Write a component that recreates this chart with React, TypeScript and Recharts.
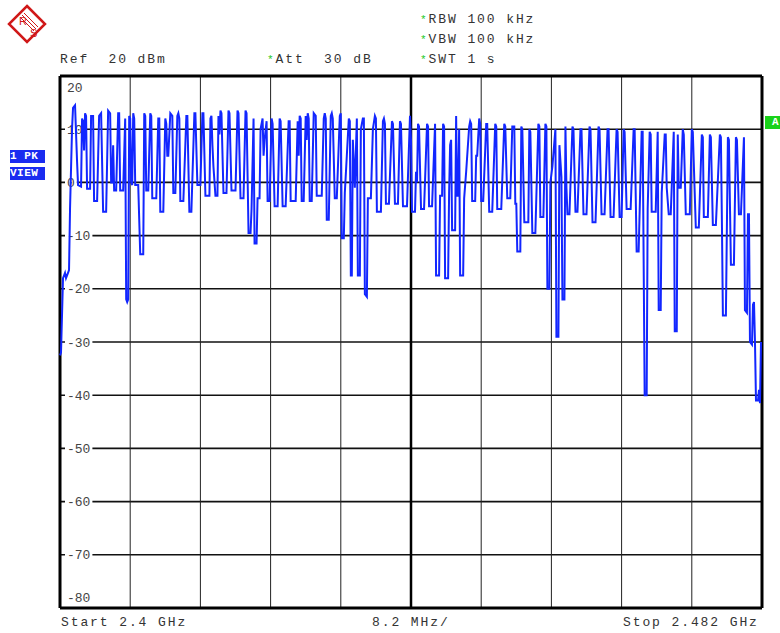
import { Line, LineChart, ReferenceLine, XAxis, YAxis } from 'recharts'

// sweep bins across the span (2.4 GHz .. 2.482 GHz)
const traceBins = [
  0, 1, 3, 5, 6, 8, 9, 10, 12, 13, 15, 17, 18, 21, 22, 23, 24, 25, 26, 27, 30, 31, 33, 34, 37, 39, 41, 43, 46, 48,
  50, 51, 52, 53, 54, 56, 58, 59, 60, 63, 65, 66, 67, 68, 69, 70, 71, 72, 73, 74, 75, 78, 80, 83, 84, 85, 86, 88, 90, 91,
  92, 96, 98, 99, 100, 103, 105, 106, 107, 108, 110, 112, 113, 115, 117, 118, 119, 120, 123, 126, 127, 129, 131, 134, 135, 137, 140, 142, 143, 145,
  149, 150, 151, 152, 153, 155, 157, 158, 159, 160, 161, 163, 166, 168, 169, 171, 175, 177, 178, 180, 183, 185, 186, 188, 190, 191, 193, 194, 196, 197,
  199, 200, 202, 203, 204, 206, 207, 209, 211, 212, 214, 217, 219, 220, 222, 225, 228, 229, 230, 235, 237, 238, 239, 240, 241, 243, 245, 246, 247, 248,
  249, 251, 253, 255, 256, 261, 263, 264, 265, 266, 268, 270, 271, 272, 274, 276, 279, 280, 281, 283, 284, 286, 288, 289, 290, 291, 292, 294, 296, 297,
  299, 300, 302, 303, 304, 306, 307, 310, 312, 314, 315, 316, 320, 322, 323, 324, 325, 328, 331, 332, 334, 337, 339, 340, 342, 346, 349, 350, 351, 354,
  355, 356, 357, 358, 360, 363, 366, 367, 368, 371, 374, 375, 378, 379, 381, 382, 383, 384, 387, 388, 389, 390, 391, 394, 395, 396, 397, 398, 399, 402,
  403, 405, 408, 409, 410, 411, 414, 415, 416, 418, 419, 420, 422, 425, 426, 428, 431, 434, 435, 436, 440, 443, 444, 446, 449, 451, 453, 454, 455, 456,
  459, 460, 461, 463, 467, 468, 469, 471, 474, 477, 478, 479, 482, 484, 485, 486, 488, 489, 491, 494, 495, 497, 498, 500, 501, 503, 504, 505, 506, 508,
  511, 512, 514, 516, 519, 520, 522, 525, 528, 529, 531, 534, 537, 538, 540, 543, 546, 547, 549, 552, 555, 556, 558, 560, 562, 563, 565, 569, 572, 573,
  575, 577, 580, 581, 583, 585, 586, 588, 589, 590, 594, 596, 597, 599, 600, 603, 604, 605, 607, 609, 612, 613, 615, 616, 617, 619, 621, 622, 624, 628,
  630, 631, 634, 637, 640, 641, 642, 646, 648, 649, 651, 654, 658, 659, 660, 661, 664, 666, 667, 669, 672, 674, 675, 677, 679, 682, 683, 685, 686, 687,
  688, 690, 691, 692, 693, 694, 696, 697, 698, 699,
]

const traceDbm = [
  -32.5, -32, -18, -17, -18, -17, -16.5, -5, 10, 14, 14.5, 4, -0.5, -0.8, 12, 11.5, 6, 13, 12.5, -1.2, -1.2, 12.5, 12.5, -3.5, -3.5, 12.5, 13, -5.5, -5.5, 13.5,
  13, 0, 0, 7, -1.5, -1.5, 13, 13, -1.5, -1.5, 12, -22, -22.5, -22, 12.5, 12, 0, -0.5, 13, 12, -0.5, -0.5, -13.5, -13.5, 13, 12.5, -1.5, -1.5, 13, 12.5,
  -3, -3, 12, 12, -5.5, -5.5, 12, 11, 5, 5, 13, 12.5, -2, -2, 12.5, 13, 12, -3.5, -3.5, 12.5, 12.5, -5.5, -5.5, 13, 13, -0.5, -0.5, 13, 13, -2.5,
  -2.5, 12, 12.5, 7, 3, -2.5, -2.5, 12.5, 9, 13.5, 13, -2, -2, 13.5, 13, -1.5, -1.5, 13.5, 13, -3, -3, 13.5, 13, -9.5, -9.5, -5, 12, -11.5, -11.5, -3,
  -3, 10, 12, 5, 8, 11.5, -3.5, -3.5, 12, 11, -4.5, -4.5, 12, 11.5, -4.5, -4.5, 11.5, 11.5, -3.5, -3.5, 11.5, 5, 12.5, 12, -3.5, -3.5, 12.5, 8, 13, 12,
  -3.5, -3.5, 13, 12.5, -2.5, -2.5, 12, 13, 12, -7, -7, 12.5, 13, 12, -3, -3, 12.5, 13, -10.5, -10.5, -2, 5, 12, 11.5, -17.5, -17.5, 8, -1, 12, -17.5,
  -17.5, 10, 12, 12, -21, -21.5, -3, -3, 10, 12.5, 12, -5.5, -5.5, 11.5, 12, 11, -4, -4, 11.5, 11, -4, -4, 11.5, 11, -4.5, -4.5, 12.5, 8, -5.5, -5.5,
  2, 0, 11, 10.5, -5, -5, 11, 10.5, -4.5, -4.5, 11, -17.5, -17.5, -2.5, -2.5, 11, 10.5, -18, -18, -2, 7, 8, -9, -9, 12.5, -2.5, -2.5, 10, -17.5, -17.5,
  -3, 2, 10.5, 11.5, 11, -3.5, -3.5, 5, 5, 12, 11, -3.5, -3.5, 11, 11, -5.5, -5.5, 11, 10.5, -5, -5, 11, 10.5, -3, -3, 10.5, 10.5, -4, -4, -13,
  -13, 10.5, 10, -7.5, -7.5, 10, 9.5, -9.5, -9.5, 11, 10.5, -6.5, -6.5, 11, 10.5, -20, -20, 0, 3, 10, -29, -29, 7, 1, -22, -22, 10.5, -1, -6, -6,
  10.5, 10, -5.5, -5.5, 10, 10, -6, -6, 10.5, 10, -7.5, -7.5, 10.5, 10, -6, -6, 10, 10, -6.5, -6.5, 10, 9.5, -6.5, -6.5, 10, 9.5, -5, -5, 10, 10,
  -13, -13, 9.5, 9.5, -40, -40, -5, 9.5, 9, -5.5, -5.5, 9.5, -24, -24, -2, 9, 9, -1, -6, -6, 9.5, -28, -28, 9, -1, -1, 10, 9, -6, -6,
  10, 9.5, -8.5, -8.5, 9, 8.5, -6.5, -6.5, 9, 8.5, -8, -8, 9, 8.5, -7, -25, -25, 8.5, 8, -15.5, -15.5, 8.5, 8, -6, -6, 8.5, -24, -24.5, -6, -6,
  -30, -30.5, -23, -22.5, -30, -41, -41, -39, -41.5, -30,
]

const gridLevels = [10, 0, -10, -20, -30, -40, -50, -60, -70]
const gridBins = [70, 140, 210, 280, 420, 490, 560, 630]
const refLevel = 20
const bottomLevel = -80
const centerBin = 350
const sweepBins = 700

const traceData = traceBins.map((bin, i) => ({ bin, dbm: traceDbm[i] }))

const mono = '"Liberation Mono", "DejaVu Sans Mono", monospace'

// level label drawn at the left edge of the grid, on a white patch
function LevelLabel({ viewBox, v, dy = 0 }: any) {
  if (!viewBox) return null
  const label = String(v)
  const x = viewBox.x + 7
  const y = viewBox.y + dy
  const w = label.length * 7.8 + 4
  return (
    <g>
      {dy === 0 && <rect x={x - 2} y={y - 7} width={w} height={14} fill="#fff" />}
      <text x={x} y={y} dy={4.5} fontFamily={mono} fontSize={13} fill="#444">
        {label}
      </text>
    </g>
  )
}

function Logo() {
  return (
    <svg width={40} height={40} style={{ position: 'absolute', left: 7, top: 4 }}>
      <polygon points="20,2 38,20 20,38 2,20" fill="#fff" stroke="#d01818" strokeWidth={2.5} />
      <line x1={17} y1={9} x2={31} y2={23} stroke="#d01818" strokeWidth={1} />
      <line x1={15} y1={11} x2={29} y2={25} stroke="#d01818" strokeWidth={1} />
      <line x1={13} y1={13} x2={27} y2={27} stroke="#d01818" strokeWidth={1} />
      <text x={12} y={21} fontFamily="Liberation Sans" fontSize={11} fill="#d01818">R</text>
      <text x={23} y={33} fontFamily="Liberation Sans" fontSize={11} fill="#d01818">S</text>
    </svg>
  )
}

function Label({ x, y, children, star }: { x: number; y: number; children: string; star?: boolean }) {
  return (
    <div
      style={{
        position: 'absolute',
        left: x,
        top: y - 8,
        fontFamily: mono,
        fontSize: 13,
        lineHeight: '16px',
        letterSpacing: 1.9,
        color: '#333',
        whiteSpace: 'pre',
      }}
    >
      {star && <span style={{ color: '#1ec81e', fontSize: 11, letterSpacing: 0, marginRight: 2 }}>*</span>}
      {children}
    </div>
  )
}

function Badge({ x, y, w, bg, text }: { x: number; y: number; w: number; bg: string; text: string }) {
  return (
    <div
      style={{
        position: 'absolute',
        left: x,
        top: y,
        width: w,
        height: 13,
        overflow: 'hidden',
        background: bg,
        color: '#fff',
        fontFamily: mono,
        fontWeight: 'bold',
        fontSize: 11,
        lineHeight: '13px',
        letterSpacing: 0.5,
        whiteSpace: 'pre',
      }}
    >
      {text}
    </div>
  )
}

export default function App() {
  return (
    <div style={{ position: 'absolute', left: 0, top: 0, width: 780, height: 633, background: '#fff' }}>
      <Logo />
      <Label x={420} y={20} star>RBW 100 kHz</Label>
      <Label x={420} y={40} star>VBW 100 kHz</Label>
      <Label x={420} y={60} star>SWT 1 s</Label>
      <Label x={60} y={60}>Ref  20 dBm</Label>
      <Label x={267} y={60} star>Att  30 dB</Label>
      <Label x={61} y={623}>Start 2.4 GHz</Label>
      <Label x={372} y={623}>8.2 MHz/</Label>
      <Label x={623} y={623}>Stop 2.482 GHz</Label>
      <Badge x={10} y={150} w={35} bg="#1a2cf0" text="1 PK" />
      <Badge x={10} y={167} w={35} bg="#1a2cf0" text="VIEW" />
      <Badge x={765} y={116} w={15} bg="#19d219" text=" A" />
      <LineChart
        width={780}
        height={633}
        data={traceData}
        margin={{ top: 76, right: 18, bottom: 25, left: 60 }}
        style={{ position: 'absolute', left: 0, top: 0 }}
      >
        <XAxis type="number" dataKey="bin" domain={[0, sweepBins]} hide />
        <YAxis type="number" domain={[bottomLevel, refLevel]} hide />
        {gridLevels.map((v) => (
          <ReferenceLine key={`h${v}`} y={v} stroke="#111" strokeWidth={1.6} label={<LevelLabel v={v} />} />
        ))}
        {gridBins.map((b) => (
          <ReferenceLine key={`v${b}`} x={b} stroke="#222" strokeWidth={1} />
        ))}
        <ReferenceLine x={centerBin} stroke="#000" strokeWidth={2.5} />
        <ReferenceLine x={0} stroke="#000" strokeWidth={3} />
        <ReferenceLine x={sweepBins} stroke="#000" strokeWidth={3} />
        <ReferenceLine y={refLevel} stroke="#000" strokeWidth={3} label={<LevelLabel v={refLevel} dy={11} />} />
        <ReferenceLine y={bottomLevel} stroke="#000" strokeWidth={3} label={<LevelLabel v={bottomLevel} dy={-11} />} />
        <Line
          type="linear"
          dataKey="dbm"
          stroke="#1226ff"
          strokeWidth={2}
          dot={false}
          isAnimationActive={false}
        />
      </LineChart>
    </div>
  )
}
